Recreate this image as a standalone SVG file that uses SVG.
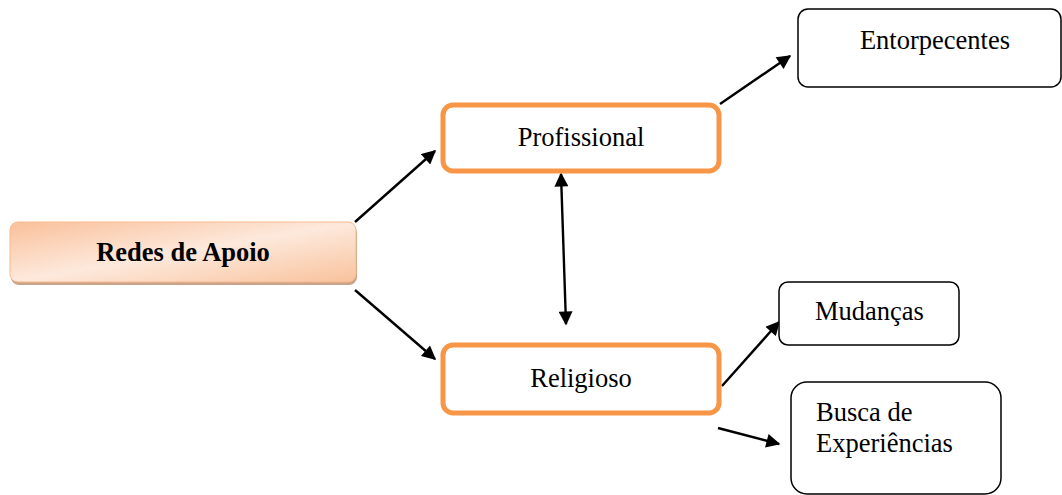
<svg xmlns="http://www.w3.org/2000/svg" width="1062" height="495" viewBox="0 0 1062 495">
<style>
.t{font-family:"Liberation Serif","Times New Roman",serif;font-size:26.5px;fill:#000}
.o{fill:#fff;stroke:#F79646;stroke-width:5}
.b{fill:#fff;stroke:#000;stroke-width:1.5}
.c{stroke:#000;stroke-width:2.4;fill:none}
</style>
<defs>
<marker id="ah" viewBox="0 0 10 10" refX="9" refY="5" markerWidth="15" markerHeight="14" markerUnits="userSpaceOnUse" orient="auto-start-reverse"><path d="M0,0 L10,5 L0,10 z" fill="#000"/></marker>
<linearGradient id="g" x1="0" y1="0" x2="1" y2="1">
<stop offset="0" stop-color="#FAC09A"/><stop offset="0.5" stop-color="#FDE9DC"/><stop offset="1" stop-color="#F9C29C"/>
</linearGradient>
</defs>
<g id="connectors">
<line class="c" x1="355" y1="222" x2="435" y2="151" marker-end="url(#ah)"/>
<line class="c" x1="355" y1="290" x2="435" y2="359" marker-end="url(#ah)"/>
<line class="c" x1="561" y1="174" x2="566" y2="324" marker-start="url(#ah)" marker-end="url(#ah)"/>
<line class="c" x1="720" y1="104" x2="790" y2="56" marker-end="url(#ah)"/>
<line class="c" x1="722" y1="386" x2="779" y2="322" marker-end="url(#ah)"/>
<line class="c" x1="718" y1="428" x2="779" y2="444" marker-end="url(#ah)"/>
</g>
<g id="redes">
<rect x="11" y="225" width="346" height="60" rx="8" fill="#C9A48A"/>
<rect x="10" y="222" width="346" height="60" rx="8" fill="url(#g)" stroke="#F7B98F" stroke-width="1"/>
<text class="t" x="183" y="261" text-anchor="middle" font-weight="bold">Redes de Apoio</text>
</g>
<g id="profissional">
<rect class="o" x="443" y="105" width="276" height="66" rx="10"/>
<text class="t" x="581" y="146" text-anchor="middle">Profissional</text>
</g>
<g id="religioso">
<rect class="o" x="443" y="345" width="276" height="68" rx="10"/>
<text class="t" x="581" y="387" text-anchor="middle">Religioso</text>
</g>
<g id="entorpecentes">
<rect class="b" x="798" y="9" width="263" height="78" rx="10"/>
<text class="t" x="935" y="49" text-anchor="middle">Entorpecentes</text>
</g>
<g id="mudancas">
<rect class="b" x="779" y="282" width="180" height="63" rx="9"/>
<text class="t" x="815" y="320">Mudanças</text>
</g>
<g id="busca">
<rect class="b" x="791" y="382" width="210" height="112" rx="16"/>
<text class="t" x="816" y="421">Busca de</text>
<text class="t" x="816" y="452">Experiências</text>
</g>
</svg>
